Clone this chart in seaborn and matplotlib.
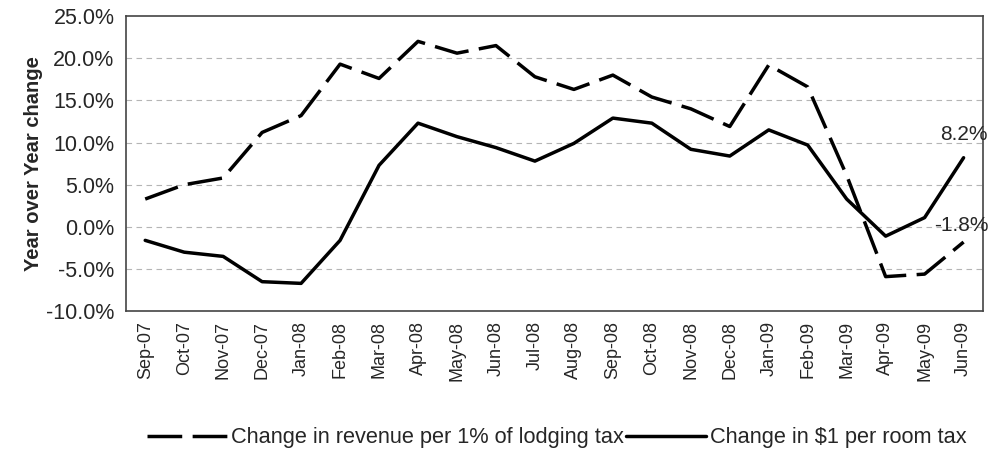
import numpy as np
import pandas as pd
import matplotlib
matplotlib.use("Agg")
import matplotlib.pyplot as plt
import seaborn as sns

months = ["Sep-07", "Oct-07", "Nov-07", "Dec-07", "Jan-08", "Feb-08", "Mar-08",
          "Apr-08", "May-08", "Jun-08", "Jul-08", "Aug-08", "Sep-08", "Oct-08",
          "Nov-08", "Dec-08", "Jan-09", "Feb-09", "Mar-09", "Apr-09", "May-09", "Jun-09"]

lodging = [3.3, 5.0, 5.8, 11.2, 13.2, 19.3, 17.6, 22.0, 20.6, 21.5, 17.8, 16.3,
           18.0, 15.4, 14.0, 11.9, 19.2, 16.6, 6.1, -5.9, -5.6, -1.8]
room = [-1.6, -3.0, -3.5, -6.5, -6.7, -1.6, 7.3, 12.3, 10.7, 9.4, 7.8, 9.9,
        12.9, 12.3, 9.2, 8.4, 11.5, 9.7, 3.3, -1.1, 1.1, 8.2]

lodging_name = "Change in revenue per 1% of lodging tax"
room_name = "Change in $1 per room tax"

df = pd.DataFrame({
    "pos": list(range(len(months))) * 2,
    "value": lodging + room,
    "series": [lodging_name] * len(months) + [room_name] * len(months),
})

sns.set_style("white")
plt.rcParams["font.family"] = ["Liberation Sans", "DejaVu Sans"]

fig = plt.figure(figsize=(9.9, 4.59), dpi=100)
ax = fig.add_axes([0.127, 0.322, 0.866, 0.643])

sns.lineplot(data=df, x="pos", y="value", hue="series", style="series",
             palette={lodging_name: "black", room_name: "black"},
             dashes={lodging_name: (10, 3), room_name: ""},
             linewidth=2.5, ax=ax, legend=True)

# gridlines
for yv in np.arange(-5, 25, 5):
    ax.axhline(yv, color="#b5b5b5", lw=0.8, ls=(0, (5, 4)), zorder=0)

ax.set_xlim(-0.5, len(months) - 0.5)
ax.set_ylim(-10, 25)
ax.set_yticks(np.arange(-10, 26, 5))
ax.set_yticklabels([f"{v:.1f}%" for v in np.arange(-10, 26, 5)], fontsize=15.5)
ax.set_xticks(range(len(months)))
ax.set_xticklabels(months, rotation=90, fontsize=13)
ax.set_xticks(np.arange(-0.5, len(months), 1), minor=True)
ax.tick_params(axis="x", which="major", length=0, pad=7)
ax.tick_params(axis="x", which="minor", length=5, width=1, direction="out", color="#222222")
ax.tick_params(axis="y", length=5, width=1, direction="out", color="#222222", pad=3)
ax.set_xlabel("")
ax.set_ylabel("Year over Year change", fontsize=14.5, fontweight="bold", labelpad=2)

for s in ax.spines.values():
    s.set_color("#444444")
    s.set_linewidth(1.2)

ax.text(len(months) - 1, room[-1] + 1.6, f"{room[-1]:.1f}%", ha="center",
        va="bottom", fontsize=15)
ax.text(len(months) - 1.75, 0.2, f"{lodging[-1]:.1f}%", ha="left",
        va="center", fontsize=15, clip_on=False)

handles, labels = ax.get_legend_handles_labels()
ax.legend_.remove()
fig.legend(handles, labels, loc="center", bbox_to_anchor=(0.562, 0.046),
           ncol=2, frameon=False, fontsize=15.7, handlelength=3.7, handletextpad=0.15,
           columnspacing=0.1)

fig.savefig("out.png", dpi=100)
